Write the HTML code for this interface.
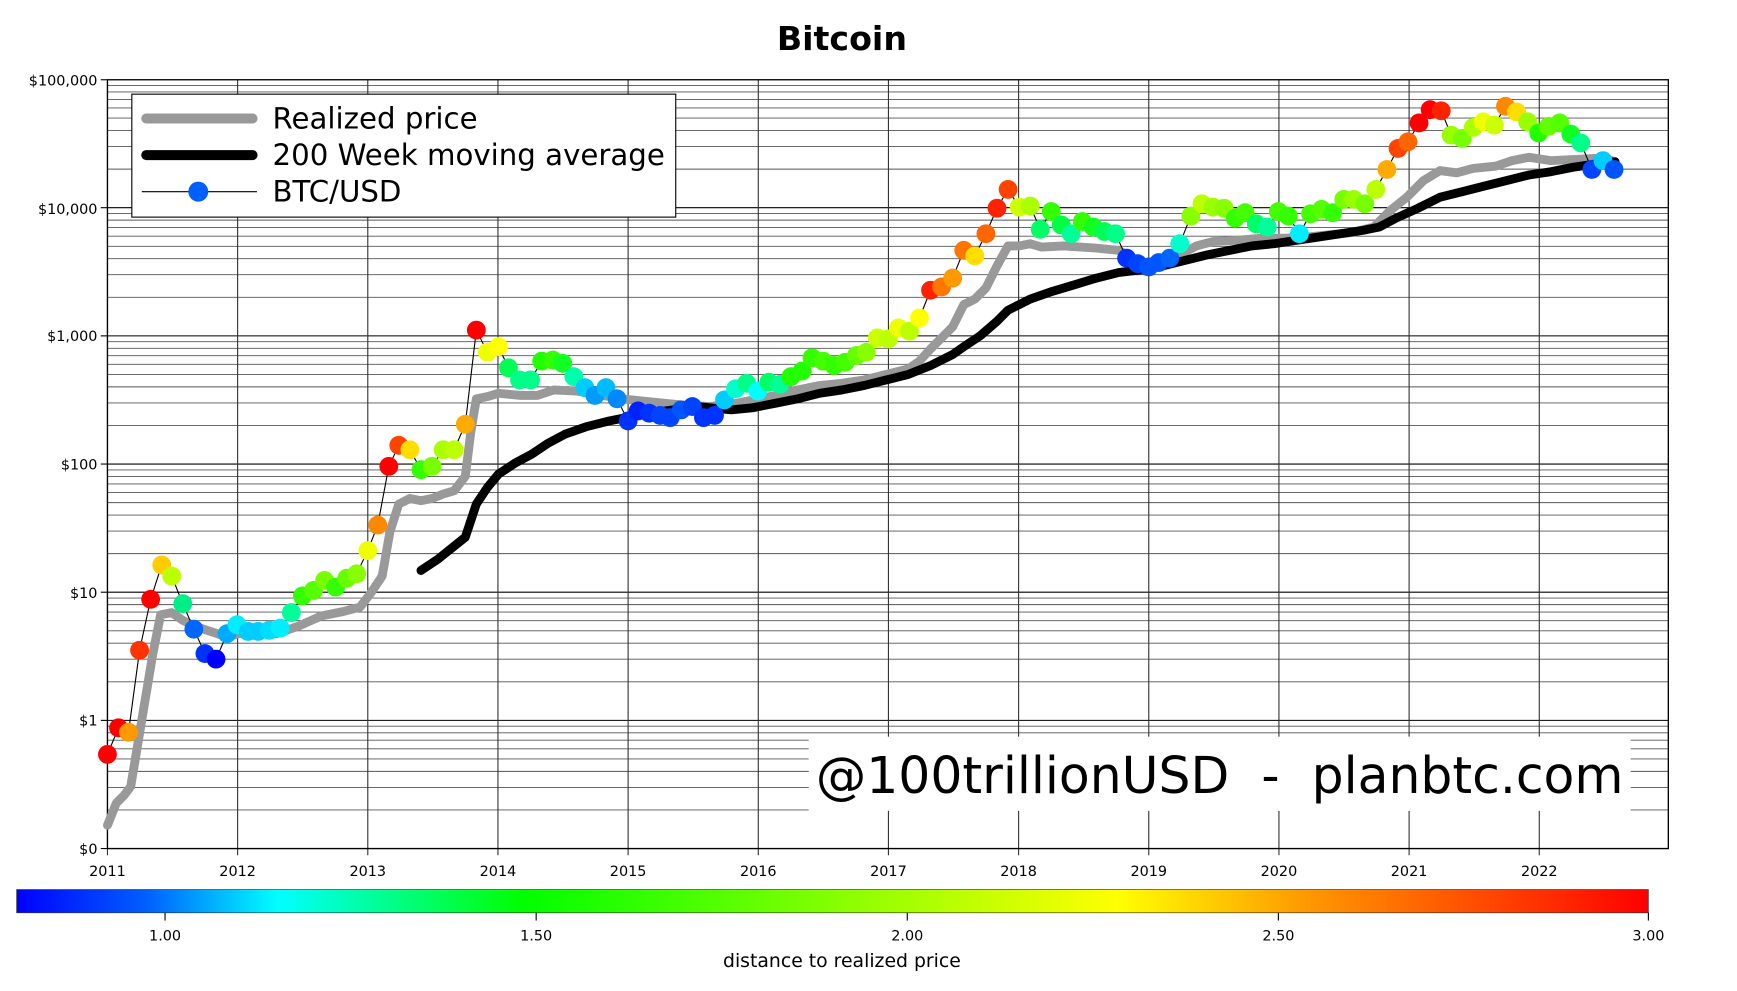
<!DOCTYPE html>
<html><head><meta charset="utf-8"><style>
html,body{margin:0;padding:0;background:#fff;}
svg{display:block;font-family:"DejaVu Sans","Liberation Sans",sans-serif;}
</style></head><body>
<svg id="s" width="1737" height="991" viewBox="0 0 1568 894.6" preserveAspectRatio="none" xmlns="http://www.w3.org/2000/svg">
<defs>
<linearGradient id="cb" x1="0" x2="1" y1="0" y2="0">
<stop offset="0" stop-color="#0000ff"/>
<stop offset="0.08" stop-color="#0060ff"/>
<stop offset="0.16" stop-color="#00ffff"/>
<stop offset="0.31" stop-color="#00ff00"/>
<stop offset="0.675" stop-color="#ffff00"/>
<stop offset="0.79" stop-color="#ff9900"/>
<stop offset="1" stop-color="#ff0000"/>
</linearGradient>
</defs>
<rect width="1568" height="895" fill="#fff"/>
<text x="760" y="45" font-size="30" font-weight="bold" text-anchor="middle">Bitcoin</text>
<g id="grid"></g>
<rect x="97" y="72" width="1409" height="694" fill="none" stroke="#000" stroke-width="1.2"/>
<g font-size="13" text-anchor="end">
<text x="88" y="77">$100,000</text><text x="88" y="193">$10,000</text><text x="88" y="308">$1,000</text>
<text x="88" y="424">$100</text><text x="88" y="540">$10</text><text x="88" y="655">$1</text><text x="88" y="771">$0</text>
</g>
<g font-size="13" text-anchor="middle" id="yl"></g>
<rect x="730" y="665" width="742" height="67" fill="#fff"/>
<text x="1101" y="716" font-size="45.5" text-anchor="middle" xml:space="preserve">@100trillionUSD  -  planbtc.com</text>
<polyline id="rp" fill="none" stroke="#999" stroke-width="8" stroke-linejoin="round" stroke-linecap="round"/>
<polyline id="ma" fill="none" stroke="#000" stroke-width="8" stroke-linejoin="round" stroke-linecap="round"/>
<polyline id="pl" fill="none" stroke="#000" stroke-width="1"/>
<g id="dots"></g>
<rect x="119" y="85" width="491" height="111" fill="#fff" stroke="#000" stroke-width="1"/>
<line x1="132" y1="107" x2="228" y2="107" stroke="#999" stroke-width="9" stroke-linecap="round"/>
<line x1="132" y1="140" x2="228" y2="140" stroke="#000" stroke-width="9" stroke-linecap="round"/>
<line x1="128" y1="173" x2="232" y2="173" stroke="#000" stroke-width="1"/>
<circle cx="179" cy="173" r="9" fill="#0060ff"/>
<g font-size="26.4"><text x="246" y="116">Realized price</text><text x="246" y="149">200 Week moving average</text><text x="246" y="182">BTC/USD</text></g>
<rect x="15" y="803" width="1473" height="21" fill="url(#cb)" stroke="#333" stroke-width="0.6"/>
<g stroke="#000" stroke-width="1"><line x1="149" y1="824" x2="149" y2="831"/><line x1="484" y1="824" x2="484" y2="831"/><line x1="819" y1="824" x2="819" y2="831"/><line x1="1154" y1="824" x2="1154" y2="831"/><line x1="1488" y1="824" x2="1488" y2="831"/></g>
<g font-size="13" text-anchor="middle"><text x="149" y="849">1.00</text><text x="484" y="849">1.50</text><text x="819" y="849">2.00</text><text x="1154" y="849">2.50</text><text x="1488" y="849">3.00</text></g>
<text x="760" y="873" font-size="17" text-anchor="middle">distance to realized price</text>
<script>
(function(){
var NS="http://www.w3.org/2000/svg";
function el(t,a,p){var e=document.createElementNS(NS,t);for(var k in a)e.setAttribute(k,a[k]);p.appendChild(e);return e;}
var g=document.getElementById('grid');
for(var d=0;d<6;d++){var base=766-d*115.7;
 el('line',{x1:97,x2:1506,y1:base,y2:base,stroke:'#000','stroke-width':1},g);
 el('line',{x1:91,x2:97,y1:base,y2:base,stroke:'#000','stroke-width':1},g);
 for(var m=2;m<10;m++){var y=base-115.7*Math.log10(m);el('line',{x1:97,x2:1506,y1:y,y2:y,stroke:'#555','stroke-width':0.8},g);}}
el('line',{x1:91,x2:97,y1:72,y2:72,stroke:'#000'},g);
var yl=document.getElementById('yl');
for(var i=0;i<12;i++){var x=97+i*117.5;el('line',{x1:x,x2:x,y1:72,y2:772,stroke:'#333','stroke-width':1},g);
 var t=el('text',{x:x,y:791},yl);t.textContent=String(2011+i);}
document.getElementById('rp').setAttribute('points',"97,745 105,725 112,718 118,710 128,650 138,590 145,555 155,553 165,560 175,565 190,570 205,575 215,572 230,572 250,572 270,565 290,556 310,552 325,548 335,535 345,520 352,480 360,455 370,450 380,452 390,450 400,446 410,443 420,430 425,390 430,360 440,358 450,355 470,357 485,357 500,352 520,353 540,356 560,360 580,362 600,364 620,366 640,367 660,365 680,361 700,357 720,352 740,348 760,346 780,343 800,338 820,333 830,326 840,315 850,305 860,295 870,275 880,270 890,260 900,240 910,222 920,222 930,220 940,223 960,222 990,224 1010,226 1025,235 1035,240 1050,238 1065,230 1080,222 1095,218 1115,217 1140,215 1160,215 1180,214 1200,212 1220,210 1240,205 1255,190 1270,178 1285,163 1300,154 1315,156 1330,152 1350,150 1365,145 1380,142 1400,145 1420,144 1440,143 1455,145");
document.getElementById('ma').setAttribute('points',"380,515 395,505 410,493 420,485 430,455 440,440 450,428 465,418 480,410 495,400 510,392 530,385 550,380 570,376 600,371 630,367 660,370 680,368 700,364 720,360 740,355 760,352 780,348 800,343 820,338 840,330 860,320 870,313 885,303 900,290 910,280 920,275 930,270 950,263 970,257 990,251 1010,246 1035,243 1050,240 1070,235 1090,230 1110,226 1130,222 1150,220 1170,217 1190,214 1210,211 1230,208 1245,205 1260,197 1280,188 1300,178 1320,173 1340,168 1360,163 1380,158 1400,155 1420,151 1440,148 1458,146");
var D="97,681,f00 107,657,f00 116,661,f90 126,587,f30 136,541,f00 146,510,fc0 155,520,bf0 165,545,0e8 175,568,06f 185,590,03f 195,595,00f 205,572,0af 214,564,0ef 224,570,0cf 233,570,0cf 243,569,0df 253,567,0ef 263,553,0f9 273,538,3f0 283,533,5f0 293,524,7f0 303,530,3f0 313,522,6f0 322,518,8f0 332,497,ef0 341,474,f80 351,421,f00 360,402,f40 370,406,fd0 380,424,3f0 390,421,7f0 400,406,af0 410,406,bf0 420,383,fa0 430,298,f00 440,318,ef0 450,313,ff0 459,332,0f5 469,343,0f8 479,343,0f8 489,326,2f0 499,325,3f0 508,328,1f2 518,340,0fa 528,350,0cf 537,357,09f 547,350,0bf 557,360,08f 567,380,03f 576,371,02f 586,373,03f 596,375,04f 605,377,04f 615,370,05f 625,367,04f 635,377,03f 645,375,03f 654,361,0cf 664,351,0fc 674,346,0f8 684,353,0ff 694,345,0f6 704,347,0f9 714,340,2f0 724,335,2f0 733,323,3f0 743,326,4f0 753,330,3f0 763,327,4f0 773,321,6f0 782,318,8f0 792,305,cf0 802,306,bf0 811,296,ef0 821,299,bf0 830,287,ff0 840,262,f20 850,259,f70 860,251,f90 870,226,f70 880,231,fd0 890,211,f60 900,188,f20 910,171,f40 920,187,cf0 930,186,af0 939,207,0f6 949,191,3f0 958,203,0f4 967,211,0f9 977,200,3f0 987,205,1f2 997,209,0f5 1007,211,0f8 1017,233,03f 1027,238,04f 1037,241,05f 1046,237,05f 1056,233,06f 1065,220,0fc 1075,195,8f0 1085,184,bf0 1095,187,9f0 1105,188,8f0 1115,197,3f0 1124,192,4f0 1134,202,0f6 1144,205,0f9 1154,191,4f0 1163,195,3f0 1173,211,0ef 1183,193,4f0 1193,189,5f0 1203,192,3f0 1213,180,7f0 1222,180,9f0 1232,184,7f0 1242,171,bf0 1252,153,fa0 1262,134,f40 1271,128,f60 1281,111,f00 1291,99,f00 1301,100,f20 1310,122,9f0 1320,125,7f0 1330,115,af0 1339,110,ef0 1349,113,cf0 1359,96,f80 1369,101,fd0 1379,110,9f0 1389,120,2f0 1398,114,6f0 1408,111,5f0 1418,121,1f2 1427,129,0f8 1437,153,04f 1447,145,0cf 1457,153,05f".split(' ');
var pts=[],dg=document.getElementById('dots');
D.forEach(function(s){var p=s.split(',');pts.push(p[0]+','+p[1]);el('circle',{cx:p[0],cy:p[1],r:8.5,fill:'#'+p[2]},dg);});
document.getElementById('pl').setAttribute('points',pts.join(' '));
})();
</script>
</svg>
</body></html>
